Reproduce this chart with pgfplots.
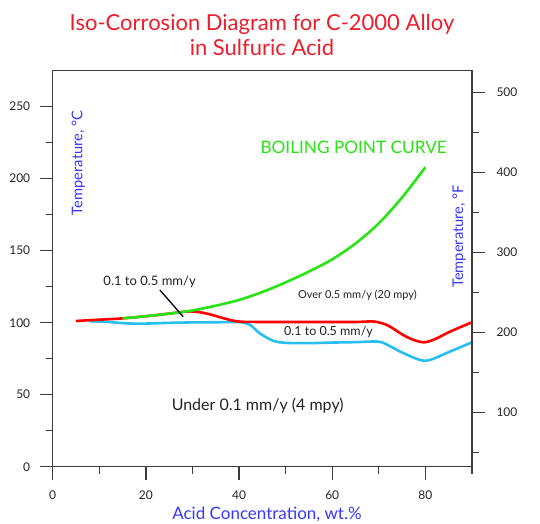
\documentclass[border=0pt]{standalone}
\usepackage{pgfplots}
\pgfplotsset{compat=1.18}
\usepackage{fontspec}
\setmainfont{Lato}

\definecolor{titlered}{RGB}{236,30,44}
\definecolor{boilgreen}{RGB}{40,228,20}
\definecolor{lowcyan}{RGB}{40,190,240}
\definecolor{labelblue}{RGB}{55,55,250}
\definecolor{axisgray}{RGB}{60,60,60}
\definecolor{textgray}{RGB}{35,35,35}

\begin{document}
\begin{tikzpicture}
\useasboundingbox (0,0) rectangle (540bp,524bp);

% Celsius axis (left and bottom)
\begin{axis}[
    at={(52.7bp,57.3bp)}, anchor=south west,
    scale only axis,
    width=419.3bp, height=396bp,
    xmin=0, xmax=90,
    ymin=0, ymax=275,
    xtick={0,20,...,80},
    minor xtick={10,30,...,90},
    ytick={0,50,...,250},
    minor ytick={25,75,...,225},
    xtick pos=bottom, ytick pos=left,
    tick align=outside,
    major tick length=13bp,
    minor tick length=7bp,
    axis line style={axisgray, line width=1.3bp},
    every tick/.style={axisgray, line width=1.3bp},
    ticklabel style={font=\fontsize{12bp}{13bp}\selectfont, text=textgray},
    xticklabel style={yshift=-8bp},
    yticklabel style={xshift=-6bp},
    /pgf/number format/assume math mode=true,
    clip=false,
]

% 0.1 mm/y line (under it: under 0.1 mm/y)
\addplot[lowcyan, line width=2.6bp, smooth, tension=0.5] coordinates {
    (8,101) (12,100.5) (16,99.5) (20,99.4) (25,99.9) (30,100.2) (35,100.3)
    (40,100.4) (42.3,98.6) (44.5,92.5) (47.3,87.5) (50,86) (55,85.8)
    (60,86.2) (65,86.5) (70,86.8) (72.5,83.5) (75.2,79) (80,73.6)
    (85.3,80) (90,86.4)
};

% 0.5 mm/y line
\addplot[red, line width=2.6bp, smooth, tension=0.5] coordinates {
    (5,101.2) (10,102.1) (15,103) (20,104.5) (25,106.3) (29,107.8)
    (31.5,107.3) (34,105.6) (37,102.8) (40,100.8) (45,100.5) (55,100.5)
    (65,100.5) (69,100.8) (72,98) (75.2,91.5) (77.5,88) (79.7,86.4)
    (82,88.5) (85.3,93.8) (90,100.3)
};

% boiling point curve
\addplot[boilgreen, line width=2.6bp, smooth, tension=0.5] coordinates {
    (15,103) (20,104.5) (25,106.3) (30,108.5) (35,111.8) (40,115.8)
    (45,121.3) (50,128) (55,135.5) (60,144) (65,155) (70,169) (75,187)
    (80,208)
};

% pointer for the upper label
\addplot[black, line width=1.3bp] coordinates {(23,122.7) (28,104.2)};

\node[boilgreen, font=\fontsize{17.2bp}{20bp}\selectfont] at (axis cs:64.6,222) {BOILING POINT CURVE};
\node[textgray, font=\fontsize{13bp}{15bp}\selectfont] at (axis cs:20.8,128.7) {0.1 to 0.5 mm/y};
\node[textgray, font=\fontsize{11bp}{13bp}\selectfont] at (axis cs:65.4,119.2) {Over 0.5 mm/y (20 mpy)};
\node[textgray, font=\fontsize{12.5bp}{14bp}\selectfont] at (axis cs:59.2,93.5) {0.1 to 0.5 mm/y};
\node[textgray, font=\fontsize{16bp}{18bp}\selectfont] at (axis cs:44,42.1) {Under 0.1 mm/y (4 mpy)};
\node[labelblue, rotate=90, font=\fontsize{14.7bp}{16bp}\selectfont] at (axis cs:5.5,211) {Temperature, °C};
\node[labelblue, rotate=90, font=\fontsize{14.7bp}{16bp}\selectfont] at (axis cs:87.2,160) {Temperature, °F};
\node[labelblue, font=\fontsize{17bp}{19bp}\selectfont] at (axis cs:46,-32.8) {Acid Concentration, wt.\%};
\end{axis}

% Fahrenheit axis (right)
\begin{axis}[
    at={(52.7bp,57.3bp)}, anchor=south west,
    scale only axis,
    width=419.3bp, height=396bp,
    xmin=0, xmax=90,
    ymin=32, ymax=527,
    axis y line*=right,
    axis x line=none,
    ytick={100,200,...,500},
    minor ytick={50,150,...,450},
    tick align=outside,
    major tick length=13bp,
    minor tick length=7bp,
    axis line style={axisgray, line width=1.3bp},
    every tick/.style={axisgray, line width=1.3bp},
    ticklabel style={font=\fontsize{12bp}{13bp}\selectfont, text=textgray},
    yticklabel style={xshift=8bp},
    /pgf/number format/assume math mode=true,
]
\end{axis}

\node[titlered, align=center, font=\fontsize{22bp}{25bp}\selectfont] at (262bp,489bp)
    {Iso-Corrosion Diagram for C-2000 Alloy\\in Sulfuric Acid};
\end{tikzpicture}
\end{document}
